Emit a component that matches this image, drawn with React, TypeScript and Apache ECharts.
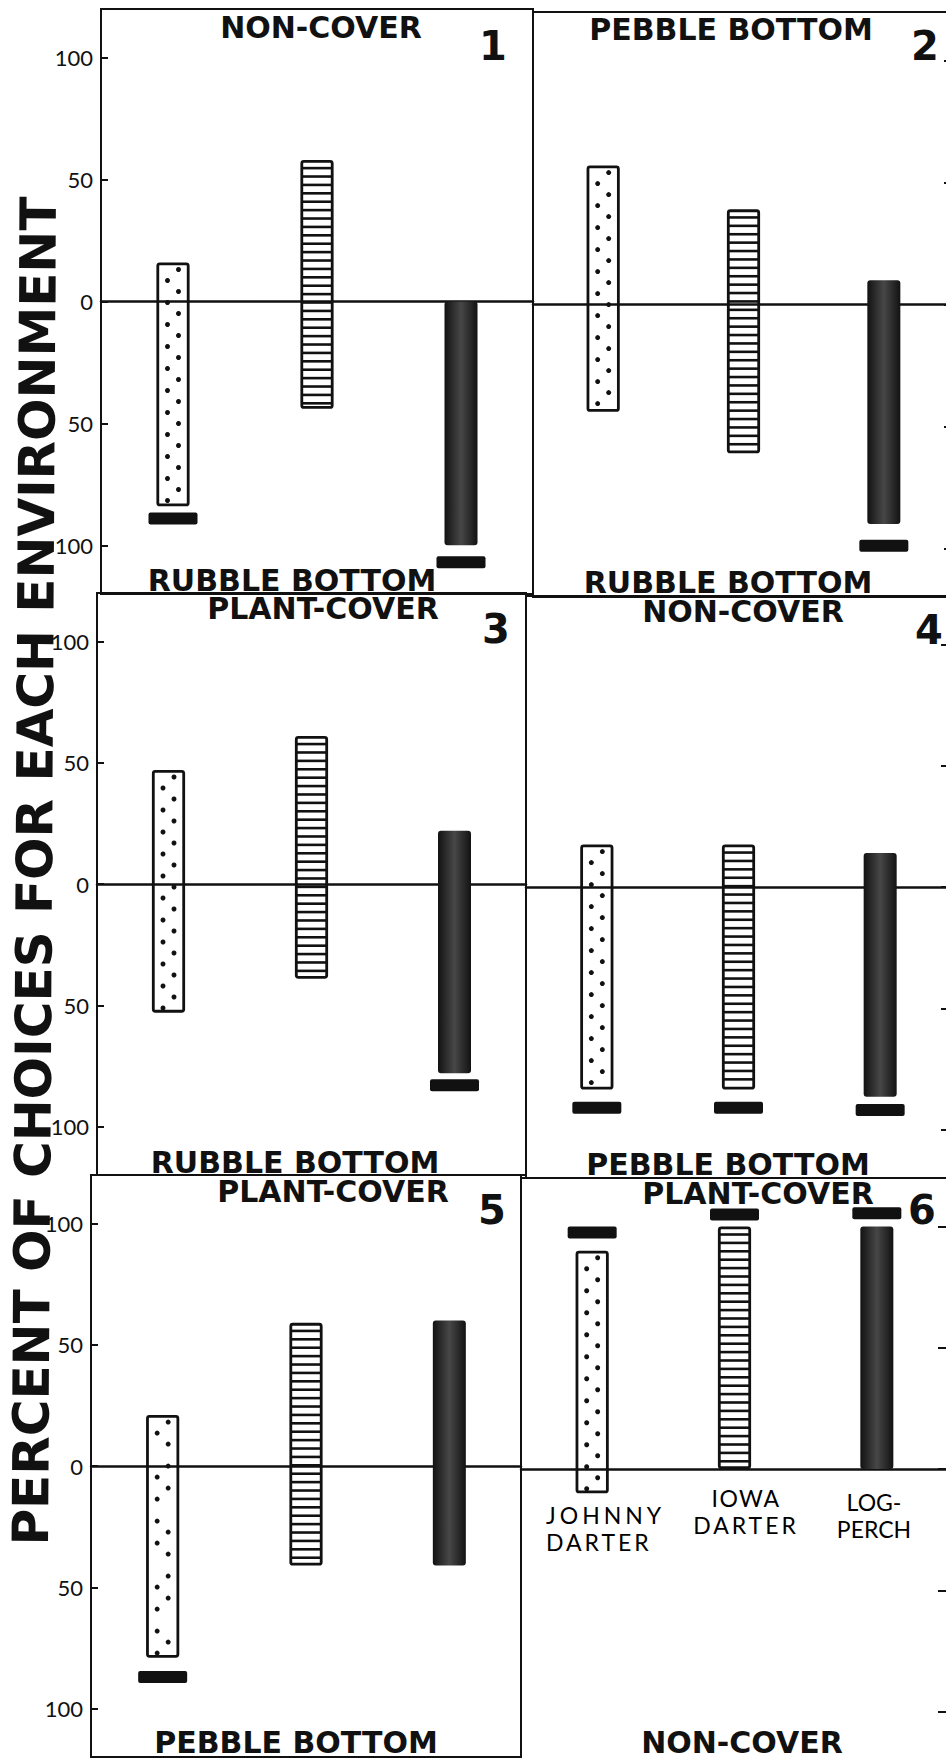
import React, { useEffect, useRef } from "react";
import * as echarts from "echarts";

// ---------------- data ----------------
const speciesNames = ["JOHNNY\nDARTER", "IOWA\nDARTER", "LOG-\nPERCH"];
const yTickValues = [-100, -50, 0, 50, 100];
const panelNumbers = ["1", "2", "3", "4", "5", "6"];
const topEnvironments = ["NON-COVER", "PEBBLE BOTTOM", "PLANT-COVER", "NON-COVER", "PLANT-COVER", "PLANT-COVER"];
const bottomEnvironments = ["RUBBLE BOTTOM", "RUBBLE BOTTOM", "RUBBLE BOTTOM", "PEBBLE BOTTOM", "PEBBLE BOTTOM", "NON-COVER"];
// per panel: [johnny, iowa, logperch]
const upperEnds = [
  [16, 58, 0],
  [57, 39, 10],
  [47, 61, 22],
  [17.5, 17.5, 14],
  [21, 59, 60],
  [90, 100, 100],
];
const lowerEnds = [
  [-84, -44, -100],
  [-44, -61, -90],
  [-53, -39, -78],
  [-83.5, -83.5, -86.5],
  [-79, -41, -41],
  [-10, 0, 0],
];
const markerLevels: (number | null)[][] = [
  [-89, null, -107],
  [null, null, -99],
  [null, null, -83],
  [-91, -91, -92],
  [-87, null, null],
  [97.5, 105, 105.5],
];
const yAxisTitle = "PERCENT OF CHOICES FOR EACH ENVIRONMENT";

// ---------------- layout ----------------
const ROWS = [
  { top: 9, height: 585, left: 101, mid: 533, right: 954 },
  { top: 593, height: 582, left: 97, mid: 526, right: 951 },
  { top: 1175, height: 582, left: 91, mid: 521, right: 948 },
];
const RIGHT_SHIFT = 3;
const TEXT_POS = [
  { top: [321, 27], bottom: [292, 580], num: [493, 46] },
  { top: [731, 29], bottom: [728, 582], num: [925, 46] },
  { top: [323, 608], bottom: [295, 1162], num: [496, 629] },
  { top: [743, 611], bottom: [728, 1164], num: [929, 630] },
  { top: [333, 1191], bottom: [296, 1742], num: [492, 1210] },
  { top: [758, 1193], bottom: [742, 1742], num: [922, 1210] },
];
// species labels of panel 6: anchor x, top y, alignment
const SPECIES_LABEL_POS = [
  { x: 546, y: 1501, align: "left" },
  { x: 746, y: 1484, align: "center" },
  { x: 874, y: 1488, align: "center" },
];
const LETTER_SPACING: Record<string, number> = { JOHNNY: 4, DARTER: 3, IOWA: 1.5 };
const BAR_W = 33;
const INK = "#111";

function renderBar(params: any, api: any) {
  const ci = api.value(0);
  const lo = api.value(1);
  const hi = api.value(2);
  const pt = api.coord([ci, hi]);
  const pb = api.coord([ci, lo]);
  const x = pt[0] - BAR_W / 2;
  const y = pt[1];
  const h = pb[1] - pt[1];
  if (ci === 2) {
    return {
      type: "rect",
      shape: { x, y, width: BAR_W, height: h, r: 3 },
      style: {
        fill: new echarts.graphic.LinearGradient(0, 0, 1, 0, [
          { offset: 0, color: "#121212" },
          { offset: 0.5, color: "#474747" },
          { offset: 1, color: "#121212" },
        ]),
      },
    };
  }
  const children: any[] = [];
  if (ci === 0) {
    let k = 0;
    for (let yy = y + 7; yy < y + h - 4; yy += 11, k++) {
      children.push({
        type: "circle",
        shape: { cx: x + (k % 2 === 0 ? 22 : 11), cy: yy, r: 2.5 },
        style: { fill: INK },
      });
    }
  } else {
    for (let yy = y + 8; yy < y + h - 4; yy += 8.4) {
      children.push({
        type: "line",
        shape: { x1: x + 2, y1: yy, x2: x + BAR_W - 2, y2: yy },
        style: { stroke: INK, lineWidth: 2.6 },
      });
    }
  }
  children.push({
    type: "rect",
    shape: { x: x + 1.3, y: y + 1.3, width: BAR_W - 2.6, height: h - 2.6, r: 2 },
    style: { fill: "none", stroke: INK, lineWidth: 2.8 },
  });
  return { type: "group", children };
}

function renderMarker(params: any, api: any) {
  const p = api.coord([api.value(0), api.value(1)]);
  return {
    type: "rect",
    shape: { x: p[0] - 24.5, y: p[1] - 6, width: 49, height: 12, r: 2 },
    style: { fill: INK },
  };
}

function buildOption() {
  const grid: any[] = [];
  const xAxis: any[] = [];
  const yAxis: any[] = [];
  const series: any[] = [];
  const graphic: any[] = [];

  for (let p = 0; p < 6; p++) {
    const row = ROWS[Math.floor(p / 2)];
    const col = p % 2;
    grid.push({
      left: col === 0 ? row.left : row.mid,
      top: row.top + (col === 1 ? RIGHT_SHIFT : 0),
      width: col === 0 ? row.mid - row.left : row.right - row.mid,
      height: row.height,
      show: true,
      borderColor: INK,
      borderWidth: 2,
      backgroundColor: "transparent",
      containLabel: false,
      outerBoundsMode: "none",
    });
    xAxis.push({
      type: "category",
      gridIndex: p,
      data: speciesNames,
      axisLine: { show: true, onZero: true, lineStyle: { color: INK, width: 2.5 } },
      axisTick: { show: false },
      splitLine: { show: false },
      axisLabel: { show: false },
    });
    yAxis.push({
      type: "value",
      gridIndex: p,
      min: -120,
      max: 120,
      position: col === 0 ? "left" : "right",
      axisLine: { show: false },
      splitLine: { show: false },
      axisTick: {
        show: true,
        inside: true,
        length: col === 0 ? 7 : 10,
        lineStyle: { color: INK, width: 2 },
        customValues: yTickValues,
      },
      axisLabel: {
        show: col === 0,
        customValues: yTickValues,
        formatter: (v: number) => String(Math.abs(v)),
        color: INK,
        fontFamily: "Lato",
        fontSize: 22,
        margin: 8,
      },
    });
    series.push({
      type: "custom",
      xAxisIndex: p,
      yAxisIndex: p,
      renderItem: renderBar,
      encode: { x: 0, y: [1, 2] },
      data: speciesNames.map((_, i) => [i, lowerEnds[p][i], upperEnds[p][i]]),
      z: 3,
    });
    series.push({
      type: "custom",
      xAxisIndex: p,
      yAxisIndex: p,
      renderItem: renderMarker,
      encode: { x: 0, y: 1 },
      data: markerLevels[p]
        .map((v, i) => (v === null ? null : [i, v]))
        .filter((d) => d !== null),
      z: 4,
    });

    const tp = TEXT_POS[p];
    const mk = (text: string, pos: number[], size: number) => ({
      type: "text",
      x: pos[0],
      y: pos[1],
      z: 10,
      style: {
        text,
        fill: INK,
        font: `bold ${size}px "DejaVu Sans"`,
        textAlign: "center",
        textVerticalAlign: "middle",
        align: "center",
        verticalAlign: "middle",
      },
    });
    graphic.push(mk(topEnvironments[p], tp.top, 30));
    graphic.push(mk(bottomEnvironments[p], tp.bottom, 30));
    graphic.push(mk(panelNumbers[p], tp.num, 40));
  }

  speciesNames.forEach((name, i) => {
    const pos = SPECIES_LABEL_POS[i];
    graphic.push({
      type: "text",
      x: pos.x,
      y: pos.y,
      z: 10,
      style: {
        text: name,
        fill: "#000",
        font: '23px "Lato"',
        lineHeight: 27,
        textAlign: pos.align,
        align: pos.align,
        textVerticalAlign: "top",
        verticalAlign: "top",
      },
    });
  });

  graphic.push({
    type: "text",
    x: 35,
    y: 871,
    rotation: Math.PI / 2 - 0.006,
    scaleX: 1.0,
    z: 10,
    style: {
      text: yAxisTitle,
      fill: INK,
      font: 'bold 50px "DejaVu Sans"',
      textAlign: "center",
      textVerticalAlign: "middle",
      align: "center",
      verticalAlign: "middle",
    },
  });

  return {
    animation: false,
    backgroundColor: "#fff",
    grid,
    xAxis,
    yAxis,
    series,
    graphic,
  };
}

export default function App() {
  const ref = useRef<HTMLDivElement>(null);
  useEffect(() => {
    document.body.style.margin = "0";
    if (!ref.current) return;
    const el = ref.current;
    const chart = echarts.init(el, null, { renderer: "svg" });
    const applySpacing = () => {
      el.querySelectorAll("text").forEach((t) => {
        const s = LETTER_SPACING[(t.textContent || "").trim()];
        if (s) (t as SVGTextElement).style.letterSpacing = `${s}px`;
      });
    };
    chart.on("finished", applySpacing);
    chart.setOption(buildOption() as any);
    applySpacing();
    const timers = [setTimeout(applySpacing, 0), setTimeout(applySpacing, 150)];
    return () => {
      timers.forEach(clearTimeout);
      chart.dispose();
    };
  }, []);
  return <div ref={ref} style={{ width: 946, height: 1758 }} />;
}
